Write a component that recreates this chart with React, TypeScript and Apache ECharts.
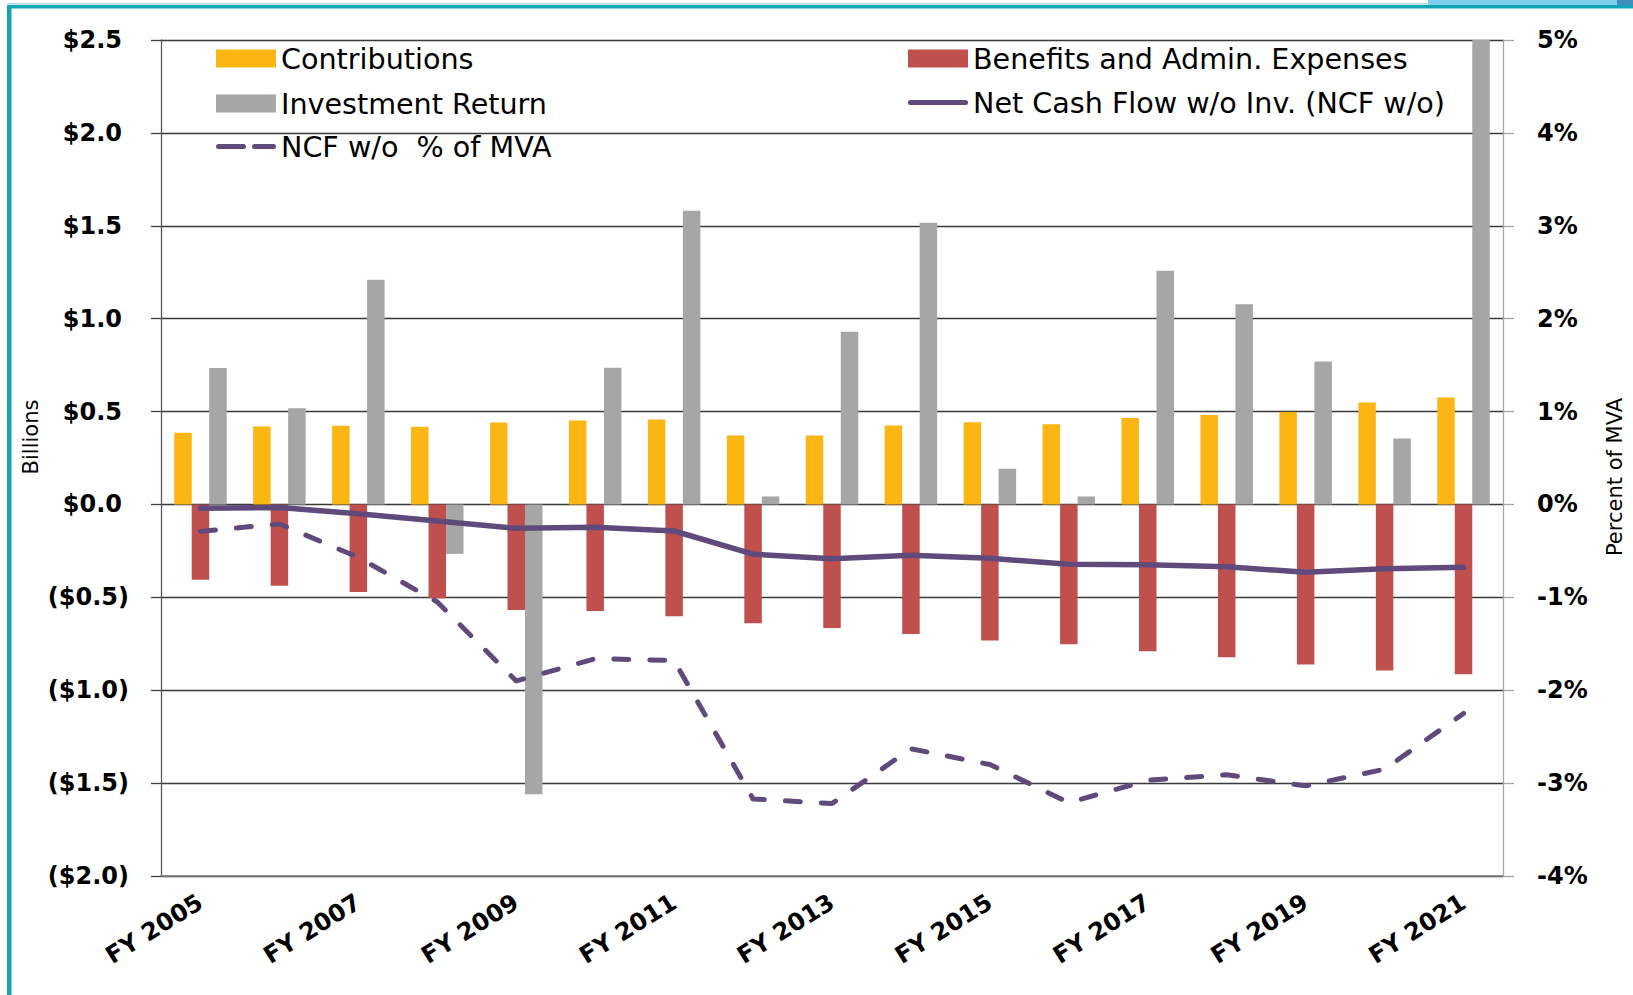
import React, { useEffect, useRef } from "react";
import * as echarts from "echarts";

const years = [
  "FY 2005", "FY 2006", "FY 2007", "FY 2008", "FY 2009", "FY 2010", "FY 2011", "FY 2012", "FY 2013",
  "FY 2014", "FY 2015", "FY 2016", "FY 2017", "FY 2018", "FY 2019", "FY 2020", "FY 2021",
];
const contributions = [0.386, 0.42, 0.424, 0.418, 0.441, 0.452, 0.457, 0.371, 0.371, 0.425, 0.443, 0.431, 0.465, 0.481, 0.497, 0.549, 0.576];
const benefits = [-0.406, -0.437, -0.471, -0.505, -0.568, -0.573, -0.602, -0.64, -0.665, -0.697, -0.733, -0.752, -0.79, -0.822, -0.862, -0.894, -0.914];
const investment = [0.734, 0.518, 1.209, -0.266, -1.56, 0.736, 1.581, 0.043, 0.929, 1.516, 0.192, 0.043, 1.258, 1.078, 0.77, 0.355, 2.5];
const netCashFlow = [-0.02, -0.017, -0.05, -0.089, -0.128, -0.123, -0.143, -0.268, -0.292, -0.274, -0.29, -0.322, -0.324, -0.336, -0.365, -0.346, -0.338];
const ncfPct = [-0.29, -0.21, -0.57, -1.05, -1.9, -1.66, -1.68, -3.17, -3.22, -2.63, -2.8, -3.21, -2.97, -2.91, -3.03, -2.85, -2.25];

const names = {
  contrib: "Contributions",
  benefits: "Benefits and Admin. Expenses",
  invest: "Investment Return",
  ncf: "Net Cash Flow w/o Inv. (NCF w/o)",
  pct: "NCF w/o  % of MVA",
};

const FONT = "DejaVu Sans";
const PURPLE = "#604A7B";

const SOLID_ICON =
  "path://M2.5,0 H57.5 A2.5,2.5 0 0 1 57.5,5 H2.5 A2.5,2.5 0 0 1 2.5,0 Z";
const DASH_ICON =
  "path://M2.5,0 H27.5 A2.5,2.5 0 0 1 27.5,5 H2.5 A2.5,2.5 0 0 1 2.5,0 Z M38.5,0 H57.5 A2.5,2.5 0 0 1 57.5,5 H38.5 A2.5,2.5 0 0 1 38.5,0 Z";

export default function App() {
  const ref = useRef<HTMLDivElement>(null);
  useEffect(() => {
    if (!ref.current) return;
    const chart = echarts.init(ref.current, undefined, { renderer: "svg" });
    const tickFont = { fontFamily: FONT, fontWeight: "bold" as const, fontSize: 24, color: "#000" };
    const legendText = { fontFamily: FONT, fontSize: 28.6, color: "#000" };
    const legendBase = {
      orient: "vertical" as const,
      padding: 0,
      itemWidth: 60,
      itemGap: 16,
      textStyle: legendText,
    };
    chart.setOption({
      animation: false,
      backgroundColor: "#fff",
      grid: { left: 161, right: 130, top: 40, bottom: 119, containLabel: false },
      legend: [
        {
          ...legendBase,
          data: [
            { name: names.contrib, icon: "rect" },
            { name: names.invest, icon: "rect" },
          ],
          left: 216,
          top: 44,
          itemHeight: 18,
        },
        {
          ...legendBase,
          data: [{ name: names.pct, icon: DASH_ICON }],
          left: 216,
          top: 132,
          itemHeight: 5,
        },
        {
          ...legendBase,
          data: [{ name: names.benefits, icon: "rect" }],
          left: 908,
          top: 44,
          itemHeight: 18,
        },
        {
          ...legendBase,
          data: [{ name: names.ncf, icon: SOLID_ICON }],
          left: 908,
          top: 88,
          itemHeight: 5,
        },
      ],
      xAxis: {
        type: "category",
        data: years,
        boundaryGap: true,
        axisLine: { onZero: false, lineStyle: { color: "#808080", width: 1.5 } },
        axisTick: { show: false },
        axisLabel: { ...tickFont, interval: 1, rotate: 32, margin: 24 },
        splitLine: { show: false },
      },
      yAxis: [
        {
          type: "value",
          min: -2,
          max: 2.5,
          interval: 0.5,
          axisLine: { show: true, lineStyle: { color: "#595959", width: 1.3 } },
          axisTick: { show: true, length: 10, lineStyle: { color: "#404040", width: 1.3 } },
          splitLine: { show: true, lineStyle: { color: "#3a3a3a", width: 1.3 } },
          axisLabel: {
            ...tickFont,
            margin: 32,
            formatter: (v: number) =>
              v >= 0 ? `{p|$${v.toFixed(1)}}` : `{n|($${Math.abs(v).toFixed(1)})}`,
            rich: {
              p: { ...tickFont, padding: [0, 7, 0, 0] },
              n: { ...tickFont },
            },
          },
        },
        {
          type: "value",
          min: -4,
          max: 5,
          interval: 1,
          position: "right",
          axisLine: { show: true, lineStyle: { color: "#a6a6a6", width: 1.3 } },
          axisTick: { show: true, length: 11, lineStyle: { color: "#a6a6a6", width: 1.3 } },
          splitLine: { show: false },
          axisLabel: { ...tickFont, margin: 34, formatter: (v: number) => `${v}%` },
        },
      ],
      series: [
        {
          name: names.contrib,
          type: "bar",
          data: contributions,
          barWidth: 17.5,
          barGap: "0%",
          itemStyle: { color: "#FCB614" },
        },
        {
          name: names.benefits,
          type: "bar",
          data: benefits,
          barWidth: 17.5,
          barGap: "0%",
          itemStyle: { color: "#C0504D" },
        },
        {
          name: names.invest,
          type: "bar",
          data: investment,
          barWidth: 17.5,
          barGap: "0%",
          itemStyle: { color: "#A6A6A6" },
        },
        {
          name: names.ncf,
          type: "line",
          data: netCashFlow,
          yAxisIndex: 0,
          symbol: "none",
          lineStyle: { color: PURPLE, width: 5.5, cap: "round", join: "round" },
          itemStyle: { color: PURPLE },
          z: 5,
        },
        {
          name: names.pct,
          type: "line",
          data: ncfPct,
          yAxisIndex: 1,
          symbol: "none",
          lineStyle: { color: PURPLE, width: 5, type: [15, 21], cap: "round", join: "round" },
          itemStyle: { color: PURPLE },
          z: 5,
        },
      ],
      graphic: [
        { type: "rect", shape: { x: 8, y: 3, width: 1420, height: 1.5 }, style: { fill: "#a8dbe0" }, silent: true },
        { type: "rect", shape: { x: 1428, y: 0, width: 189, height: 5 }, style: { fill: "#7fd0ec" }, silent: true },
        { type: "rect", shape: { x: 1617, y: 0, width: 16, height: 5 }, style: { fill: "#3d8fc0" }, silent: true },
        { type: "rect", shape: { x: 7, y: 5, width: 1626, height: 3.5 }, style: { fill: "#12a6b4" }, silent: true },
        { type: "rect", shape: { x: 7, y: 5, width: 4.5, height: 990 }, style: { fill: "#12a6b4" }, silent: true },
        {
          type: "text",
          x: 31,
          y: 437,
          rotation: Math.PI / 2,
          style: { text: "Billions", fontFamily: FONT, fontSize: 21, fill: "#000", align: "center", verticalAlign: "middle" },
        },
        {
          type: "text",
          x: 1615,
          y: 477,
          rotation: Math.PI / 2,
          style: { text: "Percent of MVA", fontFamily: FONT, fontSize: 21, fill: "#000", align: "center", verticalAlign: "middle" },
        },
      ],
    });
    return () => chart.dispose();
  }, []);
  return (
    <div
      ref={ref}
      style={{ position: "fixed", left: 0, top: 0, width: 1633, height: 995, background: "#fff" }}
    />
  );
}
